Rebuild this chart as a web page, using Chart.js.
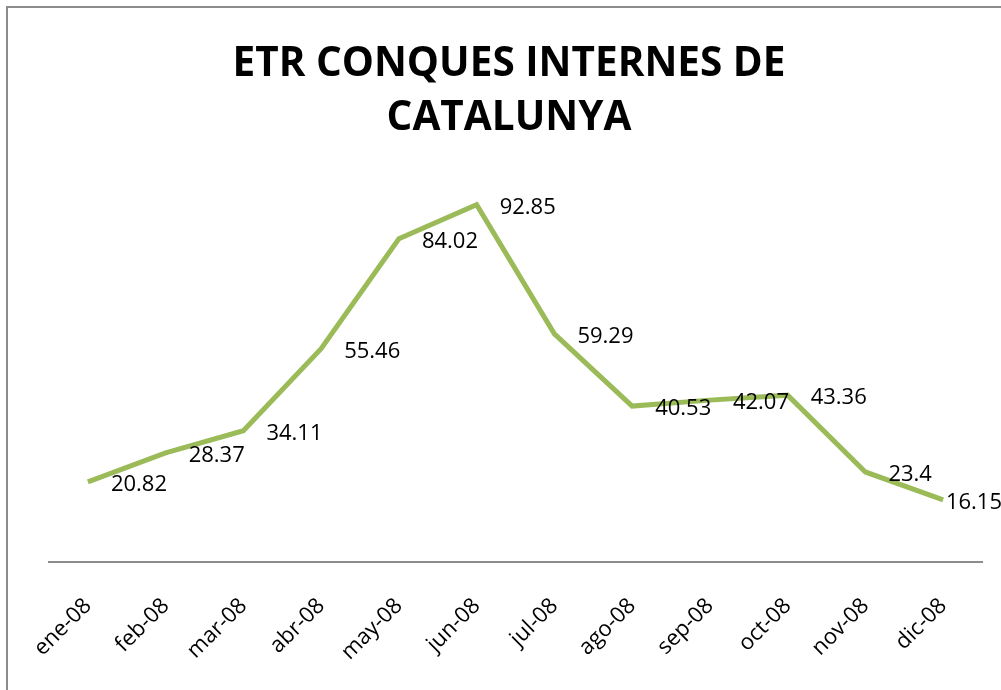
<!DOCTYPE html>
<html>
<head>
<meta charset="utf-8">
<script src="https://cdn.jsdelivr.net/npm/chart.js@4.4.1/dist/chart.umd.min.js"></script>
<style>
    html, body { margin: 0; padding: 0; background: #fff; overflow: hidden; }
    #frame {
        position: absolute;
        left: 6px;
        top: 6px;
        width: 1002px;
        height: 690px;
        border-left: 2px solid #8c8c8c;
        border-top: 2px solid #8c8c8c;
        background: #fff;
    }
    #chart { display: block; }
</style>
</head>
<body>
<div id="frame"><canvas id="chart" width="1002" height="682"></canvas></div>
<script>
const months = ["ene-08", "feb-08", "mar-08", "abr-08", "may-08", "jun-08",
    "jul-08", "ago-08", "sep-08", "oct-08", "nov-08", "dic-08"];
const etr = [20.82, 28.37, 34.11, 55.46, 84.02, 92.85,
    59.29, 40.53, 42.07, 43.36, 23.4, 16.15];
const titleLines = ["ETR CONQUES INTERNES DE", "CATALUNYA"];

const lineColor = "#9bbb59";
const fontFamily = "'Open Sans', 'DejaVu Sans', sans-serif";

// value labels sit to the right of each point, kept inside the canvas
const valueLabels = {
    id: "valueLabels",
    afterDatasetsDraw(chart) {
        const ctx = chart.ctx;
        const xs = chart.scales.x;
        const ys = chart.scales.y;
        ctx.save();
        ctx.font = "22px " + fontFamily;
        ctx.fillStyle = "#000";
        ctx.textAlign = "left";
        ctx.textBaseline = "middle";
        etr.forEach((v, i) => {
            const text = String(v);
            const w = ctx.measureText(text).width;
            let x = xs.getPixelForValue(i) + 23;
            if (x + w > chart.width - 8) {
                x = chart.width - 8 - w;
            }
            ctx.fillText(text, x, ys.getPixelForValue(v) + 3);
        });
        ctx.restore();
    },
};

new Chart(document.getElementById("chart"), {
    type: "line",
    data: {
        labels: months,
        datasets: [
            {
                data: etr,
                borderColor: lineColor,
                backgroundColor: lineColor,
                borderWidth: 5,
                tension: 0,
                pointRadius: 0,
                borderJoinStyle: "miter",
            },
        ],
    },
    options: {
        responsive: false,
        animation: false,
        layout: { padding: 0 },
        plugins: {
            legend: { display: false },
            tooltip: { enabled: false },
            title: {
                display: true,
                text: titleLines,
                color: "#000",
                font: { family: fontFamily, size: 40.5, weight: "bold", lineHeight: 1.33 },
                padding: { top: 30, bottom: 31.5 },
            },
        },
        scales: {
            x: {
                offset: true,
                grid: { display: false, drawTicks: false },
                border: { display: true, color: "#8c8c8c", width: 2 },
                ticks: {
                    color: "#000",
                    font: { family: fontFamily, size: 22 },
                    minRotation: 45,
                    maxRotation: 45,
                    padding: 31,
                    autoSkip: false,
                },
                // side gaps of the plot come from the axis, so the title stays centred on the canvas
                afterFit(scale) {
                    scale.height = 128;
                    scale.paddingLeft = 41;
                    scale.paddingRight = 28;
                },
            },
            y: {
                display: false,
                min: 0,
                max: 100,
            },
        },
    },
    plugins: [valueLabels],
});
</script>
</body>
</html>
